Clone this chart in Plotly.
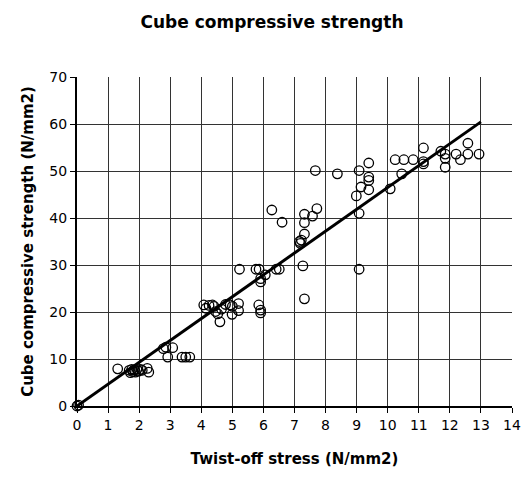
import plotly.graph_objects as go

# Twist-off stress (N/mm2) and matching cube compressive strength (N/mm2)
twist_off = [
    0.00, 0.05,
    1.31, 1.68, 1.72, 1.76, 1.80, 1.84, 1.88, 1.93, 1.98, 2.05, 2.10, 2.26, 2.31,
    2.78, 2.86, 3.08, 2.92, 3.38, 3.50, 3.63,
    4.08, 4.15, 4.25, 4.36, 4.41, 4.46, 4.53, 4.60, 4.65, 4.78,
    4.93, 4.99, 5.00, 5.20, 5.20, 5.85, 5.91, 5.91,
    5.23, 5.76, 5.86, 6.41, 6.51, 9.08, 7.27, 6.06, 5.91, 5.91, 7.32,
    7.16, 7.22, 7.19, 7.32, 6.60, 7.32, 7.32, 7.58, 7.72, 6.27,
    7.67, 8.38, 9.08, 9.39, 9.39, 9.39, 9.14, 9.39, 8.99, 9.08,
    10.08, 10.45, 10.24, 10.52, 10.82, 11.15, 11.15, 11.15, 11.71,
    11.85, 11.85, 11.85, 12.20, 12.34, 12.58, 12.58, 12.94,
]
cube_strength = [
    0.0, 0.2,
    7.9, 7.6, 7.1, 7.8, 7.3, 7.7, 7.2, 7.8, 7.4, 7.8, 7.6, 8.0, 7.2,
    12.2, 12.5, 12.4, 10.4, 10.4, 10.4, 10.4,
    21.5, 20.8, 21.4, 21.5, 21.2, 20.1, 19.6, 17.9, 20.6, 21.6,
    21.5, 19.5, 21.2, 21.8, 20.3, 21.5, 20.4, 19.8,
    29.1, 29.1, 29.1, 29.1, 29.1, 29.1, 29.8, 27.9, 27.1, 26.4, 22.8,
    35.0, 35.3, 34.6, 36.6, 39.1, 39.0, 40.8, 40.4, 42.0, 41.7,
    50.1, 49.4, 50.1, 51.7, 48.7, 48.0, 46.6, 46.0, 44.7, 41.0,
    46.2, 49.4, 52.4, 52.4, 52.4, 54.9, 52.0, 51.5, 54.2,
    53.6, 52.7, 50.8, 53.6, 52.4, 55.9, 53.6, 53.6,
]

# Linear trend through the origin
trend_slope = 4.65
trend_x = [0, 13]
trend_y = [trend_slope * v for v in trend_x]

x_ticks = list(range(0, 15))
y_ticks = list(range(0, 71, 10))

fig = go.Figure()
fig.add_trace(go.Scatter(
    x=twist_off, y=cube_strength, mode="markers",
    marker=dict(symbol="circle-open", size=9.5, color="black",
                line=dict(width=1.3, color="black")),
    showlegend=False, cliponaxis=False,
))
fig.add_trace(go.Scatter(
    x=trend_x, y=trend_y, mode="lines",
    line=dict(color="black", width=3), showlegend=False,
))

axis_font = dict(family="DejaVu Sans", size=14, color="black")
title_font = dict(family="DejaVu Sans", size=15, color="black")

fig.update_layout(
    width=531, height=477,
    margin=dict(l=77, r=10, t=77, b=71),
    paper_bgcolor="white", plot_bgcolor="white",
    title=dict(text="<b>Cube compressive strength</b>",
               font=dict(family="DejaVu Sans", size=17, color="black"),
               x=272 / 531, xanchor="center", y=1 - 22 / 477, yanchor="middle"),
    xaxis=dict(
        range=[0, 14], tickvals=x_ticks, ticktext=[str(v) for v in x_ticks],
        showgrid=True, gridcolor="#333", gridwidth=1,
        showline=True, linecolor="black", linewidth=2,
        ticks="outside", ticklen=5, tickcolor="black", tickwidth=1,
        tickfont=axis_font, zeroline=False,
        title=dict(text="<b>Twist-off stress (N/mm2)</b>", font=title_font, standoff=22),
    ),
    yaxis=dict(
        range=[0, 70], tickvals=y_ticks, ticktext=[str(v) for v in y_ticks],
        showgrid=True, gridcolor="#333", gridwidth=1,
        showline=True, linecolor="black", linewidth=2,
        ticks="outside", ticklen=5, tickcolor="black", tickwidth=1,
        tickfont=axis_font, zeroline=False,
        title=dict(text="<b>Cube compressive strength (N/mm2)</b>", font=title_font, standoff=12),
    ),
)

fig.write_html("out.html")
